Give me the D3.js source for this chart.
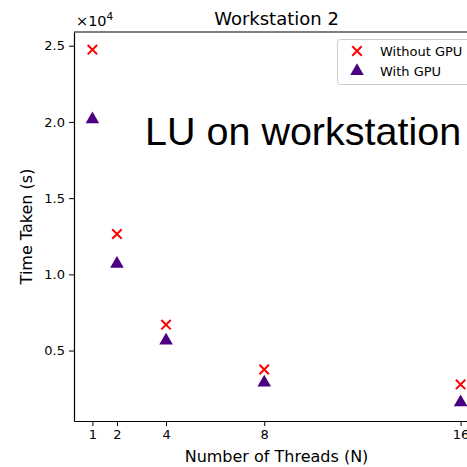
<!DOCTYPE html>
<html>
<head>
<meta charset="utf-8">
<script src="https://cdn.jsdelivr.net/npm/d3@7"></script>
<style>
  html, body { margin: 0; padding: 0; background: #fff; overflow: hidden; }
  text { font-family: "DejaVu Sans", sans-serif; }
</style>
</head>
<body>
<div id="chart"></div>
<script>
// thread counts and times (seconds)
const threads = [1, 2, 4, 8, 16];
const withoutGpu = [24740, 12650, 6700, 3760, 2780];
const withGpu = [20100, 10620, 5590, 2840, 1540];
const xTicks = [1, 2, 4, 8, 16];
const yTicks = [5000, 10000, 15000, 20000, 25000];

const W = 467, H = 467;
const margin = { left: 74, top: 32, right: 479, bottom: 421 };

const svg = d3.select('#chart').append('svg')
  .attr('width', W)
  .attr('height', H);

// matplotlib-ish 5% margins
const xDom = [1 - 0.75, 16 + 0.75];
const yMin = d3.min(withGpu), yMax = d3.max(withoutGpu);
const yPad = (yMax - yMin) * 0.05;

const x = d3.scaleLinear().domain(xDom).range([margin.left, margin.right]);
const y = d3.scaleLinear().domain([yMin - yPad, yMax + yPad]).range([margin.bottom, margin.top]);

// axes
const xAxis = svg.append('g')
  .attr('transform', `translate(0,${margin.bottom})`)
  .call(d3.axisBottom(x).tickValues(xTicks).tickSize(5).tickSizeOuter(0).tickPadding(4));
const yAxis = svg.append('g')
  .attr('transform', `translate(${margin.left},0)`)
  .call(d3.axisLeft(y).tickValues(yTicks).tickSize(5).tickSizeOuter(0).tickPadding(4)
    .tickFormat(d => (d / 10000).toFixed(1)));

[xAxis, yAxis].forEach(a => {
  a.select('.domain').attr('stroke', '#000').attr('stroke-width', 1.2);
  a.selectAll('.tick line').attr('stroke', '#000').attr('stroke-width', 1);
  a.selectAll('.tick text').attr('fill', '#000').style('font-size', '13px')
    .style('font-family', '"DejaVu Sans", sans-serif');
});

// top spine
svg.append('line')
  .attr('x1', margin.left).attr('x2', margin.right)
  .attr('y1', margin.top).attr('y2', margin.top)
  .attr('stroke', '#000').attr('stroke-width', 1.2);

// offset text
const off = svg.append('text').attr('x', 76).attr('y', 26).style('font-size', '14.5px');
off.append('tspan').text('×10');
off.append('tspan').attr('dy', -6).style('font-size', '10.5px').text('4');

// title
svg.append('text')
  .attr('x', (margin.left + margin.right) / 2).attr('y', 25)
  .attr('text-anchor', 'middle').style('font-size', '18px')
  .text('Workstation 2');

// axis labels
svg.append('text')
  .attr('x', (margin.left + margin.right) / 2).attr('y', 462)
  .attr('text-anchor', 'middle').style('font-size', '16px')
  .text('Number of Threads (N)');
svg.append('text')
  .attr('transform', `translate(32,${(margin.top + margin.bottom) / 2}) rotate(-90)`)
  .attr('text-anchor', 'middle').style('font-size', '16px')
  .text('Time Taken (s)');

const cross = d3.symbol().type(d3.symbolX).size(60);
const tri = d3.symbol().type(d3.symbolTriangle).size(80);

// with gpu
svg.append('g').selectAll('path')
  .data(threads)
  .enter().append('path')
  .attr('d', tri)
  .attr('transform', (d, i) => `translate(${x(d)},${y(withGpu[i]) - 1})`)
  .attr('fill', '#4b0082');

// without gpu
svg.append('g').selectAll('path')
  .data(threads)
  .enter().append('path')
  .attr('d', cross)
  .attr('transform', (d, i) => `translate(${x(d)},${y(withoutGpu[i])})`)
  .attr('stroke', '#ff0000').attr('stroke-width', 2).attr('fill', 'none');

// legend
const lg = svg.append('g');
lg.append('rect')
  .attr('x', 337.5).attr('y', 39.5).attr('width', 140).attr('height', 45)
  .attr('rx', 3)
  .attr('fill', '#fff').attr('fill-opacity', 0.8)
  .attr('stroke', '#ccc');
lg.append('path').attr('d', cross).attr('transform', 'translate(357,51)')
  .attr('stroke', '#ff0000').attr('stroke-width', 2).attr('fill', 'none');
lg.append('path').attr('d', tri).attr('transform', 'translate(357,71)')
  .attr('fill', '#4b0082');
lg.append('text').attr('x', 380).attr('y', 56).style('font-size', '13px').text('Without GPU');
lg.append('text').attr('x', 380).attr('y', 76).style('font-size', '13px').text('With GPU');

// overlay annotation
svg.append('text')
  .attr('x', 145).attr('y', 145)
  .style('font-family', '"Liberation Sans", Arial, sans-serif')
  .style('font-size', '39.5px')
  .text('LU on workstation');
</script>
</body>
</html>
